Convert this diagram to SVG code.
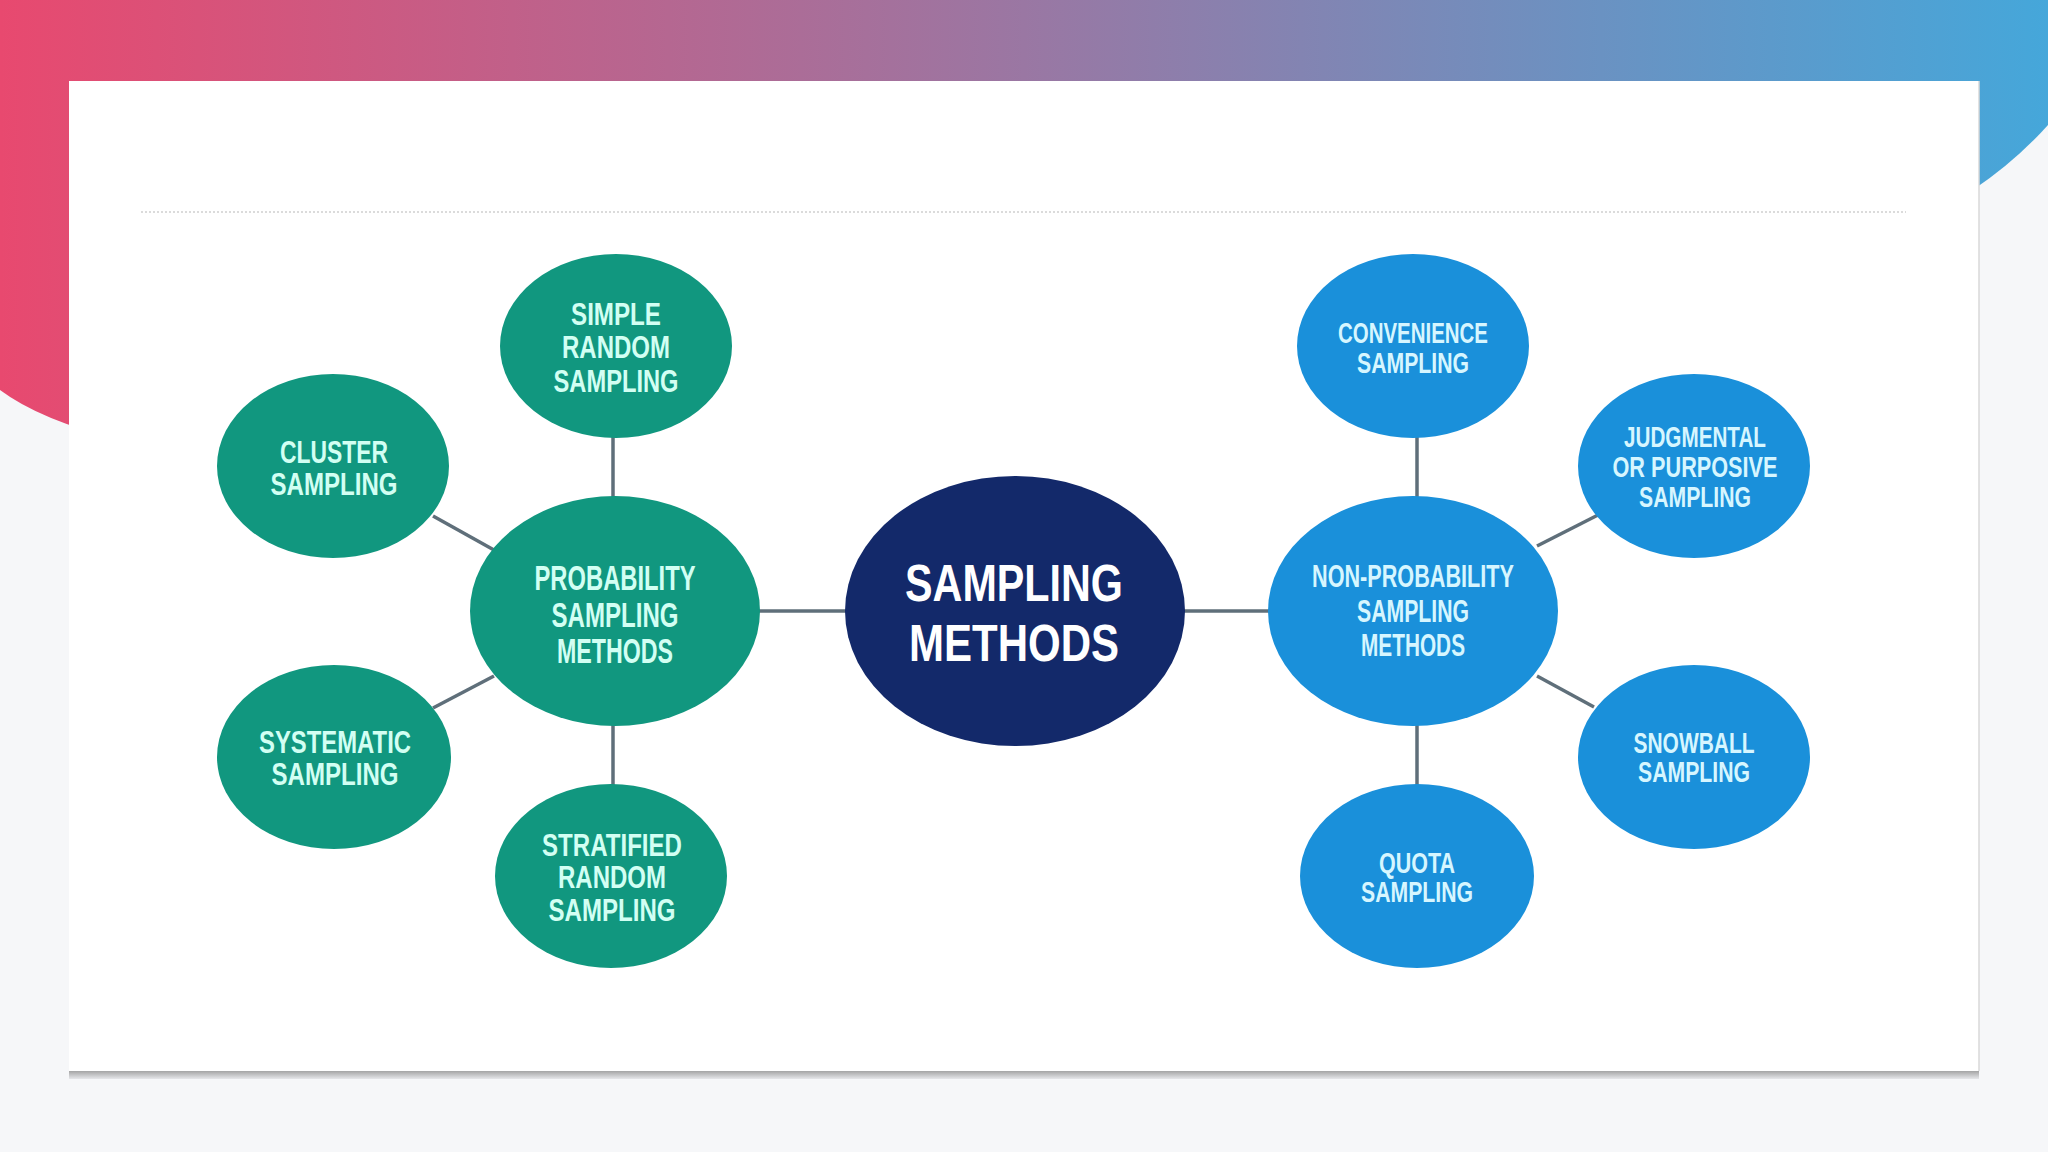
<svg xmlns="http://www.w3.org/2000/svg" width="2048" height="1152" viewBox="0 0 2048 1152">
  <defs>
    <linearGradient id="bg" x1="0" y1="0" x2="2048" y2="0" gradientUnits="userSpaceOnUse">
      <stop offset="0" stop-color="#e8496f"/>
      <stop offset="0.5" stop-color="#9a77a3"/>
      <stop offset="1" stop-color="#45a7da"/>
    </linearGradient>
    <linearGradient id="shadow" x1="0" y1="0" x2="0" y2="1">
      <stop offset="0" stop-color="#9c9c9c"/>
      <stop offset="1" stop-color="#e6e7ea"/>
    </linearGradient>
    <style>
      .conn { stroke: #5f6f7a; stroke-width: 3.5; fill: none; }
      .teal { fill: #11977f; }
      .blue { fill: #1a90da; }
      .navy { fill: #13296a; }
      .t { font-family: "Liberation Sans Narrow", "Liberation Sans", Arial, sans-serif; font-weight: 700; text-anchor: middle; }
      .tl { fill: #d2fff3; font-size: 32px; }
      .tlp { fill: #d2fff3; font-size: 35px; }
      .tr { fill: #d6f6ff; font-size: 29px; }
      .trp { fill: #d6f6ff; font-size: 31px; }
      .tc { fill: #ffffff; font-size: 52px; }
    </style>
  </defs>

  <rect x="0" y="0" width="2048" height="1152" fill="#f6f7f9"/>
  <path d="M0 0 H2048 V125 Q1990 190 1900 230 L120 440 Q40 420 0 390 Z" fill="url(#bg)"/>

  <!-- card -->
  <rect x="69" y="1070" width="1910" height="9" fill="url(#shadow)"/>
  <rect x="69" y="81" width="1910" height="990" fill="#ffffff"/>
  <line x1="1979" y1="81" x2="1979" y2="1071" stroke="#d8d8d8" stroke-width="1.5"/>
  <line x1="141" y1="212" x2="1906" y2="212" stroke="#cfcfcf" stroke-width="1.5" stroke-dasharray="2 2"/>

  <g id="connectors">
    <line class="conn" x1="758" y1="611" x2="848" y2="611"/>
    <line class="conn" x1="1182" y1="611" x2="1270" y2="611"/>
    <line class="conn" x1="613" y1="436" x2="613" y2="498"/>
    <line class="conn" x1="433" y1="516" x2="494" y2="550"/>
    <line class="conn" x1="433" y1="708" x2="494" y2="676"/>
    <line class="conn" x1="613" y1="724" x2="613" y2="788"/>
    <line class="conn" x1="1417" y1="436" x2="1417" y2="498"/>
    <line class="conn" x1="1537" y1="546" x2="1598" y2="515"/>
    <line class="conn" x1="1537" y1="676" x2="1594" y2="707"/>
    <line class="conn" x1="1417" y1="724" x2="1417" y2="788"/>
  </g>

  <g id="center">
    <ellipse class="navy" cx="1015" cy="611" rx="170" ry="135"/>
    <text class="t tc" x="1014" y="601" textLength="218" lengthAdjust="spacingAndGlyphs">SAMPLING</text>
    <text class="t tc" x="1014" y="661" textLength="210" lengthAdjust="spacingAndGlyphs">METHODS</text>
  </g>

  <g id="probability">
    <ellipse class="teal" cx="615" cy="611" rx="145" ry="115"/>
    <text class="t tlp" x="615" y="590" textLength="161" lengthAdjust="spacingAndGlyphs">PROBABILITY</text>
    <text class="t tlp" x="615" y="627" textLength="127" lengthAdjust="spacingAndGlyphs">SAMPLING</text>
    <text class="t tlp" x="615" y="663" textLength="116" lengthAdjust="spacingAndGlyphs">METHODS</text>
  </g>

  <g id="simple-random">
    <ellipse class="teal" cx="616" cy="346" rx="116" ry="92"/>
    <text class="t tl" x="616" y="325" textLength="90" lengthAdjust="spacingAndGlyphs">SIMPLE</text>
    <text class="t tl" x="616" y="358" textLength="108" lengthAdjust="spacingAndGlyphs">RANDOM</text>
    <text class="t tl" x="616" y="392" textLength="125" lengthAdjust="spacingAndGlyphs">SAMPLING</text>
  </g>

  <g id="cluster">
    <ellipse class="teal" cx="333" cy="466" rx="116" ry="92"/>
    <text class="t tl" x="334" y="463" textLength="108" lengthAdjust="spacingAndGlyphs">CLUSTER</text>
    <text class="t tl" x="334" y="495" textLength="127" lengthAdjust="spacingAndGlyphs">SAMPLING</text>
  </g>

  <g id="systematic">
    <ellipse class="teal" cx="334" cy="757" rx="117" ry="92"/>
    <text class="t tl" x="335" y="753" textLength="152" lengthAdjust="spacingAndGlyphs">SYSTEMATIC</text>
    <text class="t tl" x="335" y="785" textLength="127" lengthAdjust="spacingAndGlyphs">SAMPLING</text>
  </g>

  <g id="stratified">
    <ellipse class="teal" cx="611" cy="876" rx="116" ry="92"/>
    <text class="t tl" x="612" y="856" textLength="140" lengthAdjust="spacingAndGlyphs">STRATIFIED</text>
    <text class="t tl" x="612" y="888" textLength="108" lengthAdjust="spacingAndGlyphs">RANDOM</text>
    <text class="t tl" x="612" y="921" textLength="127" lengthAdjust="spacingAndGlyphs">SAMPLING</text>
  </g>

  <g id="non-probability">
    <ellipse class="blue" cx="1413" cy="611" rx="145" ry="115"/>
    <text class="t trp" x="1413" y="587" textLength="202" lengthAdjust="spacingAndGlyphs">NON-PROBABILITY</text>
    <text class="t trp" x="1413" y="622" textLength="112" lengthAdjust="spacingAndGlyphs">SAMPLING</text>
    <text class="t trp" x="1413" y="656" textLength="104" lengthAdjust="spacingAndGlyphs">METHODS</text>
  </g>

  <g id="convenience">
    <ellipse class="blue" cx="1413" cy="346" rx="116" ry="92"/>
    <text class="t tr" x="1413" y="343" textLength="150" lengthAdjust="spacingAndGlyphs">CONVENIENCE</text>
    <text class="t tr" x="1413" y="373" textLength="112" lengthAdjust="spacingAndGlyphs">SAMPLING</text>
  </g>

  <g id="judgmental">
    <ellipse class="blue" cx="1694" cy="466" rx="116" ry="92"/>
    <text class="t tr" x="1695" y="447" textLength="142" lengthAdjust="spacingAndGlyphs">JUDGMENTAL</text>
    <text class="t tr" x="1695" y="477" textLength="165" lengthAdjust="spacingAndGlyphs">OR PURPOSIVE</text>
    <text class="t tr" x="1695" y="507" textLength="112" lengthAdjust="spacingAndGlyphs">SAMPLING</text>
  </g>

  <g id="snowball">
    <ellipse class="blue" cx="1694" cy="757" rx="116" ry="92"/>
    <text class="t tr" x="1694" y="753" textLength="121" lengthAdjust="spacingAndGlyphs">SNOWBALL</text>
    <text class="t tr" x="1694" y="782" textLength="112" lengthAdjust="spacingAndGlyphs">SAMPLING</text>
  </g>

  <g id="quota">
    <ellipse class="blue" cx="1417" cy="876" rx="117" ry="92"/>
    <text class="t tr" x="1417" y="873" textLength="76" lengthAdjust="spacingAndGlyphs">QUOTA</text>
    <text class="t tr" x="1417" y="902" textLength="112" lengthAdjust="spacingAndGlyphs">SAMPLING</text>
  </g>
</svg>
